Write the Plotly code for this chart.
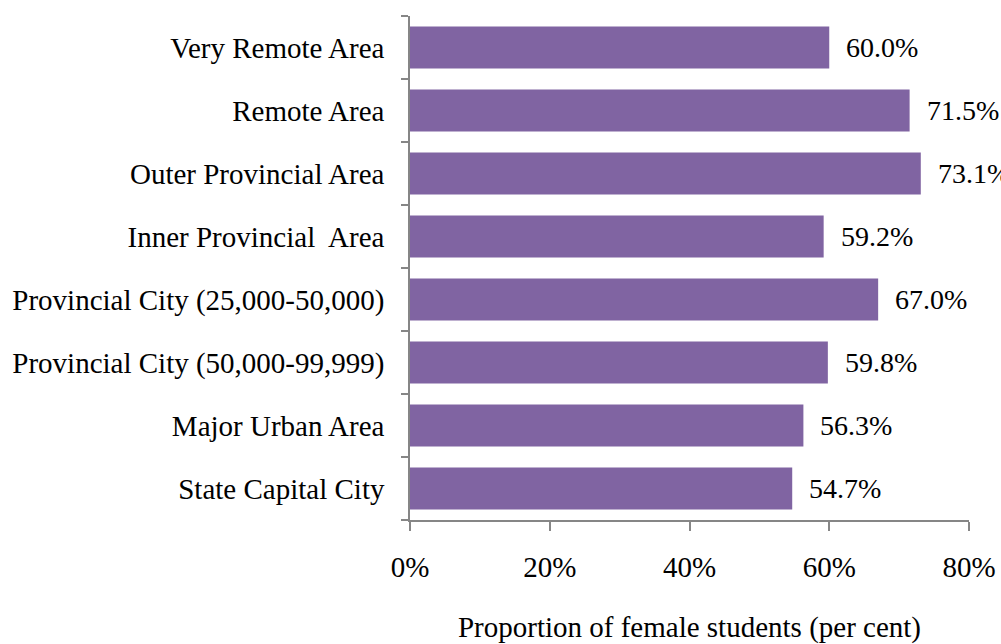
import plotly.graph_objects as go

categories = ["State Capital City", "Major Urban Area", "Provincial City (50,000-99,999)",
              "Provincial City (25,000-50,000)", "Inner Provincial  Area",
              "Outer Provincial Area", "Remote Area", "Very Remote Area"]
values = [54.7, 56.3, 59.8, 67.0, 59.2, 73.1, 71.5, 60.0]
labels = ["54.7%", "56.3%", "59.8%", "67.0%", "59.2%", "73.1%", "71.5%", "60.0%"]
x_ticks = [0, 20, 40, 60, 80]
x_tick_labels = ["0%", "20%", "40%", "60%", "80%"]

FONT = "Liberation Serif"
FS = 29
AXC = "#868686"

fig = go.Figure()
fig.add_trace(go.Bar(
    y=categories, x=values, orientation="h",
    marker=dict(color="#8064A2", line=dict(width=0)),
    hoverinfo="skip",
))
for c, v, t in zip(categories, values, labels):
    fig.add_annotation(x=v, y=c, text=t, showarrow=False, xanchor="left",
                       xshift=15, font=dict(family=FONT, size=28, color="black"))

fig.update_layout(
    width=1001, height=644,
    margin=dict(l=410, r=32, t=16, b=124),
    paper_bgcolor="white", plot_bgcolor="white",
    showlegend=False, bargap=0.333,
    font=dict(family=FONT, size=FS, color="black"),
    xaxis=dict(range=[0, 80], tickvals=x_ticks, ticktext=x_tick_labels, automargin=False,
               showgrid=False, zeroline=False, showline=True, linecolor=AXC, linewidth=1.5,
               ticks="outside", ticklen=9, tickcolor=AXC, tickwidth=1.5,
               ticklabelstandoff=11,
               title=dict(text="Proportion of female students (per cent)", standoff=39,
                          font=dict(family=FONT, size=FS))),
    yaxis=dict(type="category", categoryorder="array", categoryarray=categories,
               automargin=False,
               showgrid=False, zeroline=False, showline=True, linecolor=AXC, linewidth=1.5,
               ticks="outside", ticklen=7, tickcolor=AXC, tickwidth=1.5,
               tickson="boundaries", ticklabelstandoff=18),
)

fig.write_html("out.html", config={"displayModeBar": False},
               post_script="document.body.style.margin='0';")
